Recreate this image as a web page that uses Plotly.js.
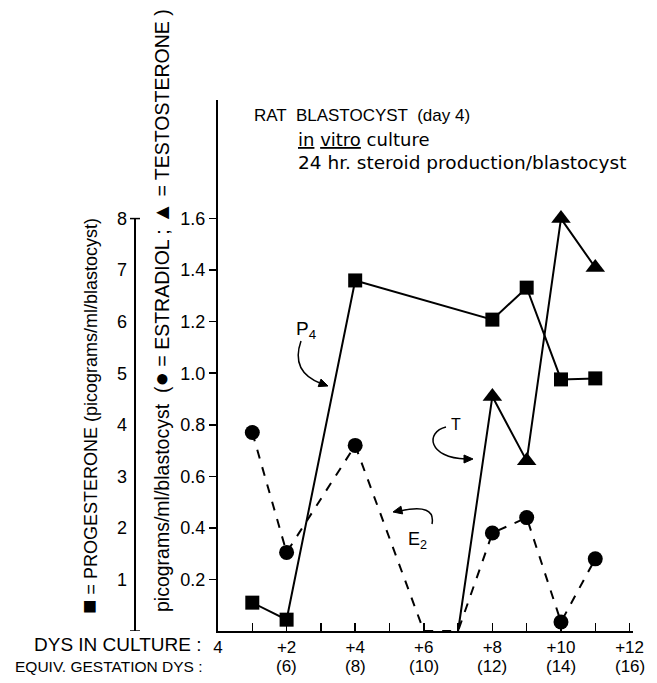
<!DOCTYPE html>
<html>
<head>
<meta charset="utf-8">
<script src="https://cdn.plot.ly/plotly-3.0.1.min.js"></script>
<style>html,body{margin:0;padding:0;background:#fff;}</style>
</head>
<body>
<div id="chart" style="width:657px;height:683px;"></div>
<script>
// ---- data ----
var dayTicks = [0,2,4,6,8,10,12];
var dayTickText = ["4","+2","+4","+6","+8","+10","+12"];
var gestDays = [2,4,6,8,10,12];
var gestLabels = ["(6)","(8)","(10)","(12)","(14)","(16)"];

var p4Days = [1,2,4,8,9,10,11];
var p4Vals = [0.55,0.22,6.8,6.04,6.66,4.88,4.9];

var e2Days = [1,2,4,6,7,8,9,10,11];
var e2Vals = [0.77,0.305,0.72,0,0,0.38,0.44,0.035,0.28];

var tDays = [7,8,9,10,11];
var tVals = [0,0.91,0.66,1.6,1.41];

var rightTicks = [0.2,0.4,0.6,0.8,1.0,1.2,1.4,1.6];
var rightTickText = ["0.2","0.4","0.6","0.8","1.0","1.2","1.4","1.6"];
var leftTicks = [1,2,3,4,5,6,7,8];
var leftMax = 8;

// ---- geometry helpers (layout only) ----
var W=657,H=683,ML=100,MR=24,MT=100,MB=52;
var PW=W-ML-MR, PH=H-MT-MB;
var X0PX=218, XMAX=12.1, YMAX=2.06, Y2MAX=YMAX*5;
function pxX(px){return (px-ML)/PW;}
function pxY(py){return (H-MB-py)/PH;}
function dX(px){return (px-X0PX)/((W-MR-X0PX)/XMAX);}
function dY(py){return (H-MB-py)/PH*YMAX;}
function pt(px,py){return dX(px).toFixed(4)+','+dY(py).toFixed(4);}
function headPath(tx,ty,dx,dy){
  var L=Math.sqrt(dx*dx+dy*dy); dx/=L; dy/=L;
  var len=9, hw=4;
  var bx=tx-dx*len, by=ty-dy*len;
  return 'M'+pt(tx,ty)+' L'+pt(bx-dy*hw,by+dx*hw)+' L'+pt(bx+dy*hw,by-dx*hw)+' Z';
}

var FONT = "Liberation Sans, Arial, sans-serif";
var FONT2 = "DejaVu Sans, sans-serif";

var traces = [
  {x:e2Days, y:e2Vals, xaxis:'x', yaxis:'y', mode:'lines+markers', cliponaxis:false, opacity:1,
   line:{color:'#000',width:2,dash:'dash'},
   marker:{symbol:'circle',opacity:1,size:e2Days.map(function(d){return (d===6||d===7)?0:15;}),color:'#000',line:{width:0}}, hoverinfo:'none'},
  {x:tDays, y:tVals, xaxis:'x', yaxis:'y', mode:'lines+markers', cliponaxis:false, opacity:1,
   line:{color:'#000',width:2},
   marker:{symbol:'triangle-up',opacity:1,size:tDays.map(function(d,i){return i===0?0:17;}),color:'#000',line:{width:0}}, hoverinfo:'none'},
  {x:p4Days, y:p4Vals, xaxis:'x', yaxis:'y2', mode:'lines+markers', cliponaxis:false,
   line:{color:'#000',width:2}, marker:{symbol:'square',size:14,color:'#000'}, hoverinfo:'none'}
];

var layout = {
  width:W, height:H,
  margin:{l:ML,r:MR,t:MT,b:MB,pad:0},
  paper_bgcolor:'#fff', plot_bgcolor:'#fff',
  showlegend:false,
  font:{family:FONT,size:17,color:'#000'},
  xaxis:{domain:[pxX(X0PX),1], range:[0,XMAX], showgrid:false, zeroline:false,
    showline:true, linewidth:2, linecolor:'#000',
    tickmode:'array', tickvals:dayTicks, ticktext:dayTickText,
    ticks:'inside', ticklen:8, tickwidth:1.5, tickcolor:'#000',
    minor:{tickmode:'linear', tick0:0, dtick:1, ticks:'inside', ticklen:8, tickwidth:1.5, tickcolor:'#000', showgrid:false},
    tickfont:{family:FONT,size:17}},
  yaxis:{range:[0,YMAX], showgrid:false, zeroline:false,
    showline:true, linewidth:2, linecolor:'#000',
    tickmode:'array', tickvals:rightTicks, ticktext:rightTickText,
    ticks:'outside', ticklen:7, tickwidth:1.5, tickcolor:'#000',
    tickfont:{family:FONT,size:18}},
  yaxis2:{overlaying:'y', range:[0,Y2MAX], anchor:'free', position:pxX(135), side:'left',
    showgrid:false, zeroline:false, showline:false,
    tickmode:'array', tickvals:leftTicks, ticks:'', ticklabelstandoff:8,
    tickfont:{family:FONT,size:18}},
  shapes:[
    {type:'line', xref:'paper', yref:'y2', x0:pxX(135), x1:pxX(135), y0:0, y1:leftMax, line:{color:'#000',width:2}},
    {type:'line', xref:'paper', yref:'y2', x0:pxX(130), x1:pxX(140), y0:leftMax, y1:leftMax, line:{color:'#000',width:1.5}},
    {type:'line', xref:'paper', yref:'y2', x0:pxX(130), x1:pxX(140), y0:0, y1:0, line:{color:'#000',width:1.5}},
    {type:'path', xref:'x', yref:'y', path:'M'+pt(301,341)+' Q'+pt(290,372)+' '+pt(322,384), line:{color:'#000',width:1.5}},
    {type:'path', xref:'x', yref:'y', path:'M'+pt(446,427)+' C'+pt(425,432)+' '+pt(428,458)+' '+pt(466,459), line:{color:'#000',width:1.5}},
    {type:'path', xref:'x', yref:'y', path:'M'+pt(432,524)+' Q'+pt(436,503)+' '+pt(400,511), line:{color:'#000',width:1.5}},
    {type:'path', xref:'x', yref:'y', path:headPath(328,386,32,12), line:{color:'#000',width:1}, fillcolor:'#000'},
    {type:'path', xref:'x', yref:'y', path:headPath(473,459,1,0), line:{color:'#000',width:1}, fillcolor:'#000'},
    {type:'path', xref:'x', yref:'y', path:headPath(393,512,-36,8), line:{color:'#000',width:1}, fillcolor:'#000'}
  ],
  annotations:[]
};

var A = layout.annotations;
function txt(text,px,py,opts){
  var a = {text:text, xref:'paper', yref:'paper', x:pxX(px), y:pxY(py), showarrow:false,
    xanchor:'left', yanchor:'middle', font:{family:FONT,size:17,color:'#000'}};
  for (var k in (opts||{})) a[k]=opts[k];
  A.push(a);
}
// title block
txt('RAT  BLASTOCYST  (day 4)', 252, 116, {font:{family:FONT,size:17,color:'#000'}});
txt('<u>in</u> <u>vitro</u> culture', 296, 139, {font:{family:FONT2,size:18,color:'#000'}});
txt('24 hr. steroid production/blastocyst', 296, 162, {font:{family:FONT2,size:18.5,color:'#000'}});
// rotated axis titles
txt('<span style="font-size:24px">\u25A0</span> = PROGESTERONE (picograms/ml/blastocyst)', 88, 416, {textangle:-90, xanchor:'center', font:{family:FONT,size:18,color:'#000'}});
txt('picograms/ml/blastocyst  (<span style="font-size:24px">\u25CF</span> = ESTRADIOL ; <span style="font-size:22px">\u25B2</span> = TESTOSTERONE )', 160, 311, {textangle:-90, xanchor:'center', font:{family:FONT,size:19.5,color:'#000'}});
// bottom row labels
txt('DYS IN CULTURE :', 32, 644, {font:{family:FONT,size:19,color:'#000'}});
txt('EQUIV. GESTATION DYS :', 13, 666, {font:{family:FONT,size:15.5,color:'#000'}});
for (var i=0;i<gestDays.length;i++){
  A.push({text:gestLabels[i], xref:'x', yref:'paper', x:gestDays[i], y:pxY(666), showarrow:false,
    xanchor:'center', yanchor:'middle', font:{family:FONT,size:17,color:'#000'}});
}
// curve labels
A.push({text:'P<sub>4</sub>', xref:'x', yref:'y', x:dX(306), y:dY(330), showarrow:false, font:{family:FONT,size:19,color:'#000'}});
A.push({text:'T', xref:'x', yref:'y', x:dX(456), y:dY(424), showarrow:false, font:{family:FONT,size:16,color:'#000'}});
A.push({text:'E<sub>2</sub>', xref:'x', yref:'y', x:dX(417), y:dY(540), showarrow:false, font:{family:FONT,size:18,color:'#000'}});

Plotly.newPlot('chart', traces, layout, {displayModeBar:false, staticPlot:true});
</script>
</body>
</html>
